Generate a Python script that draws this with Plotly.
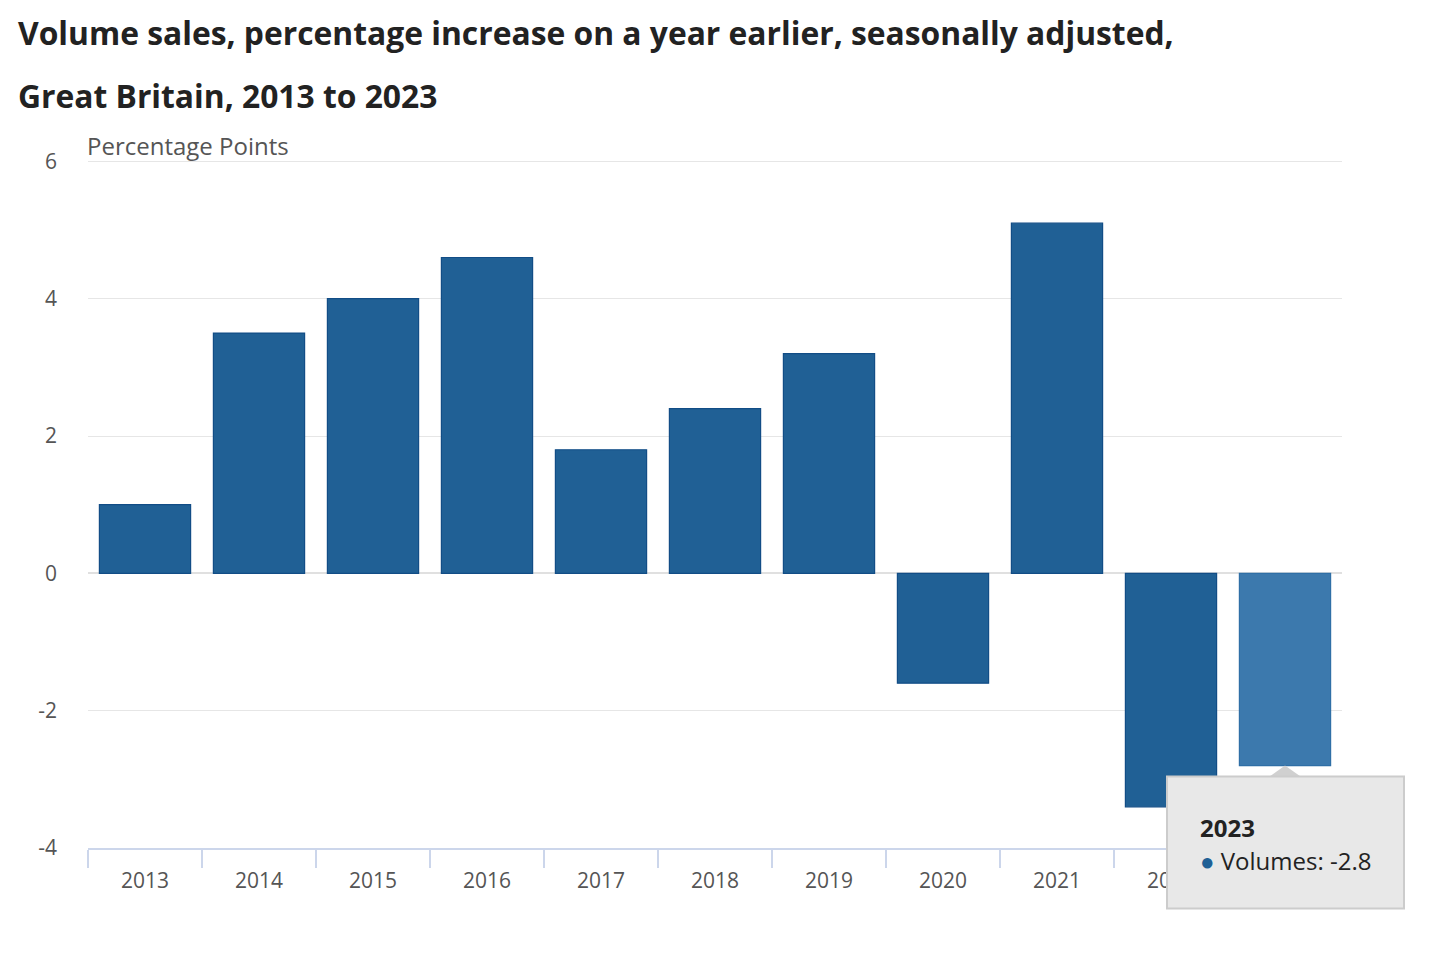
import plotly.graph_objects as go

years = ["2013", "2014", "2015", "2016", "2017", "2018", "2019", "2020", "2021", "2022", "2023"]
volumes = [1.0, 3.5, 4.0, 4.6, 1.8, 2.4, 3.2, -1.6, 5.1, -3.4, -2.8]
hover_index = 10
series_name = "Volumes"
y_ticks = [-4, -2, 0, 2, 4, 6]
title_line1 = "Volume sales, percentage increase on a year earlier, seasonally adjusted,"
title_line2 = "Great Britain, 2013 to 2023"
y_title = "Percentage Points"

# page body has an 8px margin, compensate
W, H = 1448, 960
ML, MR, MT, MB = 80, 114, 152, 120
PW = W - ML - MR
PH = H - MT - MB
FONT = "Open Sans"

base = "#206095"
hover = "#3c79ad"
colors = [hover if i == hover_index else base for i in range(len(years))]
lines = ["#2f6fa6" if i == hover_index else "#124d86" for i in range(len(years))]

fig = go.Figure(go.Bar(
    x=years, y=volumes,
    marker=dict(color=colors, line=dict(color=lines, width=1.2)),
    name=series_name,
))

ymin, ymax = y_ticks[0], y_ticks[-1]
ytop = ymax + 0.02
# tooltip anchor in paper coords, derived from data position
ax_paper = (hover_index + 0.5) / len(years)
ay_paper = (volumes[hover_index] - ymin) / (ytop - ymin)

fig.update_layout(
    width=W, height=H,
    margin=dict(l=ML, r=MR, t=MT, b=MB),
    paper_bgcolor="white", plot_bgcolor="white",
    font=dict(family=FONT, color="#555555", size=21),
    showlegend=False,
    bargap=0.2,
    xaxis=dict(
        type="category", range=[-0.5, len(years) - 0.5],
        showline=True, linecolor="#ccd6eb", linewidth=1.5,
        ticks="outside", tickson="boundaries", ticklen=18, tickcolor="#ccd6eb", tickwidth=1.5,
        ticklabelstandoff=13,
        tickfont=dict(size=21, color="#555555"),
        showgrid=False, fixedrange=True,
    ),
    yaxis=dict(
        range=[ymin, ytop], tickvals=y_ticks, ticktext=[str(v) for v in y_ticks],
        showgrid=True, gridcolor="#e6e6e6", gridwidth=1.2,
        zeroline=True, zerolinecolor="#e0e0e0", zerolinewidth=1.5,
        showline=False, ticks="", ticklabelstandoff=30,
        tickfont=dict(size=21, color="#555555"),
    ),
    shapes=[
        dict(type="path", xref="paper", yref="paper", xsizemode="pixel", ysizemode="pixel",
             xanchor=ax_paper, yanchor=ay_paper,
             path="M -17,-12 L 0,0 L 17,-12 Z",
             fillcolor="#d0d0d0", line=dict(width=0), layer="above"),
        dict(type="rect", xref="paper", yref="paper", xsizemode="pixel", ysizemode="pixel",
             xanchor=ax_paper, yanchor=ay_paper,
             x0=-118, x1=119, y0=-11, y1=-143,
             fillcolor="#e8e8e8", line=dict(color="#cccccc", width=2), layer="above"),
    ],
    annotations=[
        dict(text=f"<b>{title_line1}</b>", xref="paper", yref="paper",
             x=(8 - ML) / PW, y=1, yshift=(MT - 24), xanchor="left", yanchor="middle",
             showarrow=False, font=dict(size=31.8, color="#222222", family=FONT)),
        dict(text=f"<b>{title_line2}</b>", xref="paper", yref="paper",
             x=(8 - ML) / PW, y=1, yshift=(MT - 87), xanchor="left", yanchor="middle",
             showarrow=False, font=dict(size=31.8, color="#222222", family=FONT)),
        dict(text=y_title, xref="paper", yref="paper", x=0, y=1, xshift=-3, yshift=15,
             xanchor="left", yanchor="middle", showarrow=False,
             font=dict(size=24, color="#555555", family=FONT)),
        dict(text=f"<b>{years[hover_index]}</b>", xref="paper", yref="paper",
             x=ax_paper, y=ay_paper, xshift=-87, yshift=-62,
             xanchor="left", yanchor="middle", showarrow=False,
             font=dict(size=24, color="#222222", family=FONT)),
        dict(text=f"<span style='color:{base}'>●</span> {series_name}: {volumes[hover_index]}",
             xref="paper", yref="paper",
             x=ax_paper, y=ay_paper, xshift=-87, yshift=-95,
             xanchor="left", yanchor="middle", showarrow=False,
             font=dict(size=24, color="#222222", family=FONT)),
    ],
)

fig.write_html("out.html")
